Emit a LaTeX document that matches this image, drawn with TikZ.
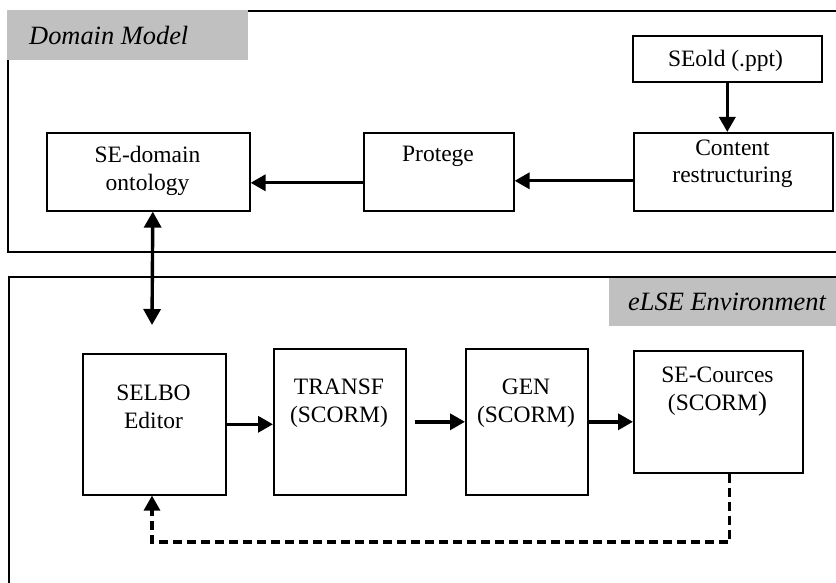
\documentclass[tikz,border=0pt]{standalone}
\usepackage{fontspec}
\setmainfont{Liberation Serif}
\usetikzlibrary{arrows.meta}
\definecolor{tagGray}{HTML}{C0C0C0}
\begin{document}
\begin{tikzpicture}[x=1pt,y=-1pt,
  frame/.style={line width=1.6pt},
  box/.style={draw, line width=1.6pt, inner sep=0pt, anchor=north west},
  txt/.style={font=\fontsize{23.5}{28}\selectfont, align=center, anchor=base, inner sep=0pt},
  tag/.style={fill=tagGray, inner sep=0pt, anchor=north west},
  tagtxt/.style={font=\fontsize{26.4}{30}\selectfont\itshape, anchor=base west, inner sep=0pt},
  flow/.style={line width=3.4pt, -{Triangle[length=15pt,width=16pt]}},
  link/.style={line width=3.4pt, {Triangle[length=16pt,width=17pt]}-{Triangle[length=16pt,width=17pt]}},
  feedback/.style={line width=3.2pt, dash pattern=on 9pt off 5pt, -{Triangle[length=15pt,width=16pt]}}]
\clip (0,0) rectangle (836,583);

% frames of the two layers
\draw[frame] (845,11) -- (8,11) -- (8,252) -- (845,252);
\draw[frame] (845,277) -- (9,277) -- (9,595);
\node[tag, minimum width=241pt, minimum height=50pt] (dmTag) at (7.2,10) {};
\node[tagtxt] (dmText) at (29,45) {Domain Model};
\node[tag, minimum width=230pt, minimum height=48pt] (envTag) at (609,277.8) {};
\node[tagtxt] (envText) at (628,310) {eLSE Environment};

% domain model boxes
\node[box, minimum width=189pt, minimum height=46pt] (seold) at (632,35) {};
\node[box, minimum width=199pt, minimum height=78pt] (content) at (633,132) {};
\node[box, minimum width=150pt, minimum height=78pt] (protege) at (363,132) {};
\node[box, minimum width=203pt, minimum height=78pt] (ontology) at (46,132) {};

% the base anchor of a two-line label sits on its second line
\node[txt] (seoldText) at (725.5,67) {SEold (.ppt)};
\node[txt] (contentText) at (732.5,183) {Content\\restructuring};
\node[txt] (protegeText) at (438,162) {Protege};
\node[txt] (ontologyText) at (147.5,190) {SE-domain\\ontology};

% environment boxes
\node[box, minimum width=143pt, minimum height=141pt] (selbo) at (82,353) {};
\node[box, minimum width=132pt, minimum height=146pt] (transf) at (273,348) {};
\node[box, minimum width=122pt, minimum height=146pt] (gen) at (465,348) {};
\node[box, minimum width=169pt, minimum height=122pt] (courses) at (633,350) {};

\node[txt] (selboText) at (153.5,428) {SELBO\\Editor};
\node[txt] (transfText) at (339,422) {TRANSF\\(SCORM)};
\node[txt] (genText) at (526,422) {GEN\\(SCORM)};
\node[txt] (coursesText) at (717.5,410) {SE-Cources\\(SCORM{\fontsize{27}{28}\selectfont )}};

% connectors
\draw[flow] (seold.south) -- (seold.south |- content.north);
\draw[flow] ([yshift=-9pt]content.west) -- ([yshift=-9pt]protege.east);
\draw[flow] ([yshift=-11pt]protege.west) -- ([yshift=-11pt]ontology.east);
\coordinate (linkEnd) at (152,325);
\draw[link] ([xshift=4.5pt]ontology.south) -- (linkEnd);
\draw[flow] (selbo.east) -- (selbo.east -| transf.west);
\draw[flow] ([xshift=8pt]transf.east) -- (transf.east -| gen.west);
\draw[flow] (gen.east) -- (gen.east -| courses.west);
\coordinate (loop) at (152,542);
\draw[feedback] ([xshift=11.5pt]courses.south) |- (loop) -- (loop |- selbo.south);
\end{tikzpicture}
\end{document}
